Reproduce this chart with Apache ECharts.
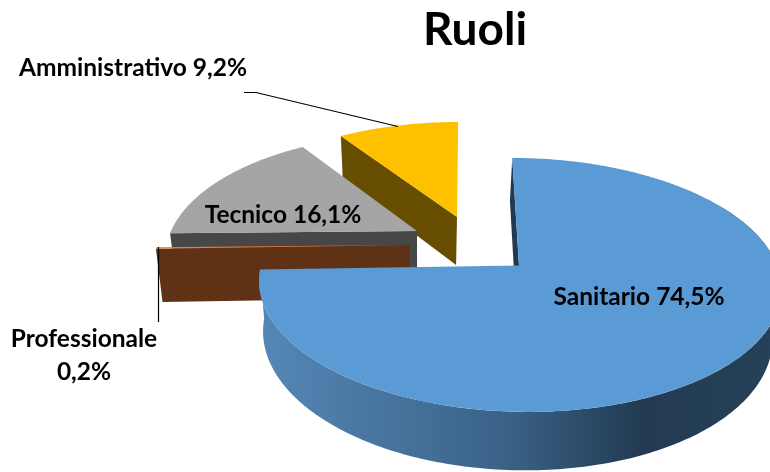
<!DOCTYPE html>
<html>
<head>
<meta charset="utf-8">
<style>
	html, body { margin: 0; padding: 0; background: #fff; }
	#chart { width: 770px; height: 472px; }
</style>
<script src="https://cdn.jsdelivr.net/npm/echarts@6/dist/echarts.min.js"></script>
</head>
<body>
<div id="chart"></div>
<script>
	// valori
	var categories = ['Sanitario', 'Professionale', 'Tecnico', 'Amministrativo'];
	var percentValues = [74.5, 0.2, 16.1, 9.2];

	var topColors = ['#5b9bd5', '#ed7d31', '#a5a5a5', '#ffc000'];
	var wallColors = ['#203a52', '#5f3216', '#474747', '#664d00'];

	// geometria 3D di ogni fetta: centro, raggi, prospettiva, spessore
	var slices = [
		{ cx: 519, cy: 265.5, rx: 258, ry: 124, tilt: 0.153, lean: 51, depth: 49.5 },
		{ cx: 410, cy: 245, rx: 253, ry: 120, tilt: 0.15, lean: 0, depth: 53 },
		{ cx: 417, cy: 231, rx: 246, ry: 118, tilt: 0.21, lean: 0, depth: 48 },
		{ cx: 457, cy: 217, rx: 236, ry: 106.4, tilt: 0.12, lean: -11, depth: 48 }
	];
	var labelPos = [
		{ x: 639, y: 297 },
		{ x: 84, y: 356 },
		{ x: 283, y: 215 },
		{ x: 133, y: 68 }
	];
	var leaderLines = [
		null,
		[[158.5, 247], [158.5, 322]],
		null,
		[[244, 92.5], [256, 92.5], [398, 126.5]]
	];
	var FONT = 'Lato, "Open Sans", sans-serif';
	var VANISH_X = 420, VANISH_K = 0.025;

	function project(s, deg, r) {
		var a = deg * Math.PI / 180;
		var depthY = -Math.cos(a) * r;
		var p = 1 / (1 - s.tilt * depthY);
		return [
			s.cx + s.rx * Math.sin(a) * r * p + s.lean * (p - 1),
			s.cy + s.ry * depthY * p,
			p
		];
	}
	function lower(s, pt) {
		return [pt[0] + VANISH_K * (VANISH_X - pt[0]), pt[1] + s.depth * pt[2]];
	}
	function arcPoints(s, from, to) {
		var pts = [];
		var n = Math.max(2, Math.ceil(Math.abs(to - from)));
		for (var i = 0; i <= n; i++) {
			pts.push(project(s, from + (to - from) * i / n, 1));
		}
		return pts;
	}
	function polygon(points, fill, z2) {
		return {
			type: 'polygon',
			z2: z2,
			shape: { points: points.map(function (p) { return [p[0], p[1]]; }) },
			style: { fill: fill }
		};
	}
	function labelText(i) {
		var pct = percentValues[i].toFixed(1).replace('.', ',') + '%';
		return categories[i] + (categories[i] === 'Professionale' ? '\n' : ' ') + pct;
	}

	function renderSlice(params, api) {
		var i = params.dataIndex;
		var s = slices[i];
		var start = 0;
		for (var k = 0; k < i; k++) {
			start += percentValues[k] * 3.6;
		}
		var end = start + api.value(1) * 3.6;
		var base = (slices.length - i) * 10;
		var children = [];
		var centre = project(s, 0, 0);
		var rim = arcPoints(s, start, end);
		var edgePoint = project(s, start, 1);

		// faccia radiale verso chi guarda
		children.push(polygon([centre, edgePoint, lower(s, edgePoint), lower(s, centre)], wallColors[i], base));
		if (i === 0) {
			// bordo esterno con sfumatura
			var front = arcPoints(s, 60, end);
			var wall = front.concat(front.map(function (p) { return lower(s, p); }).reverse());
			children.push(polygon(wall, new echarts.graphic.LinearGradient(250, 0, 770, 0, [
				{ offset: 0, color: '#5689b8' },
				{ offset: 0.5, color: '#3a6186' },
				{ offset: 0.75, color: '#223b52' },
				{ offset: 1, color: '#254058' }
			], true), base + 1));
		}
		children.push(polygon([centre].concat(rim), topColors[i], base + 2));

		var line = leaderLines[i];
		if (line) {
			children.push({
				type: 'polyline',
				z2: 200,
				shape: { points: line },
				style: { stroke: '#000', lineWidth: 1.2, fill: 'none' }
			});
		}
		children.push({
			type: 'text',
			z2: 300,
			style: {
				x: labelPos[i].x,
				y: labelPos[i].y,
				text: labelText(i),
				fill: '#000',
				font: 'bold 24.5px ' + FONT,
				lineHeight: 33,
				align: 'center',
				verticalAlign: 'middle'
			}
		});
		return { type: 'group', children: children };
	}

	var chart = echarts.init(document.getElementById('chart'));
	chart.setOption({
		animation: false,
		backgroundColor: '#fff',
		title: {
			text: 'Ruoli',
			left: 470,
			top: 2,
			textAlign: 'center',
			textStyle: { color: '#000', fontFamily: 'Lato', fontWeight: 'bold', fontSize: 46 }
		},
		series: [{
			type: 'custom',
			coordinateSystem: 'none',
			renderItem: renderSlice,
			data: categories.map(function (name, i) {
				return { name: name, value: [i, percentValues[i]] };
			})
		}]
	});
</script>
</body>
</html>
